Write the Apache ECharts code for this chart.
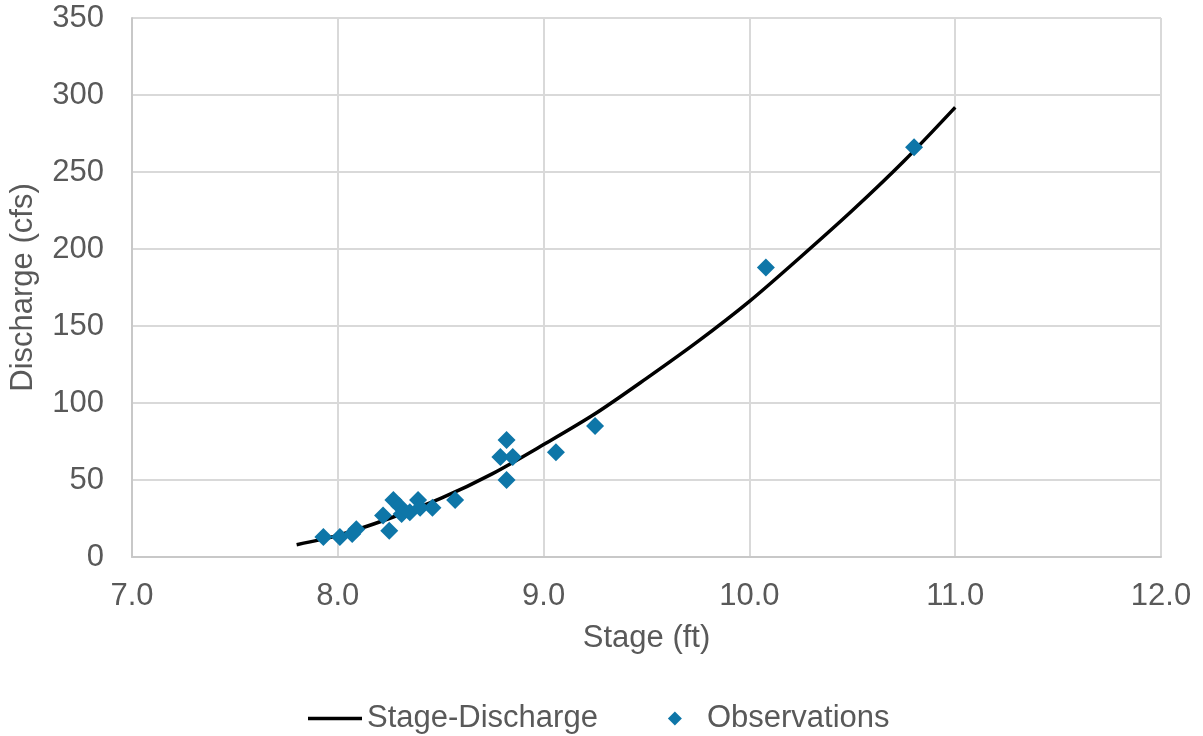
<!DOCTYPE html>
<html>
<head>
<meta charset="utf-8">
<script src="https://cdn.jsdelivr.net/npm/echarts@6/dist/echarts.min.js"></script>
<style>
html,body{margin:0;padding:0;background:#fff;}
#chart{width:1203px;height:736px;}
</style>
</head>
<body>
<div id="chart"></div>
<script>
// Rating curve
var curveStage = [7.8, 8.0, 8.25, 8.5, 8.75, 9.0, 9.25, 9.5, 9.75, 10.0, 10.25, 10.5, 10.75, 11.0];
var curveDischarge = [8, 14, 25, 38, 54, 73, 93, 116, 140, 166, 195, 225, 257, 292];

// Observations
var obsStage = [7.93, 8.01, 8.07, 8.09, 8.22, 8.25, 8.27, 8.30, 8.31, 8.35, 8.39, 8.40, 8.46, 8.57, 8.79, 8.82, 8.85, 8.82, 9.06, 9.25, 10.08, 10.80];
var obsDischarge = [13, 13, 15, 18, 27, 17, 37, 33, 28, 29, 37, 32, 32, 37, 65, 76, 65, 50, 68, 85, 188, 266];

var seriesNames = ['Stage-Discharge', 'Observations'];
var xTitle = 'Stage (ft)';
var yTitle = 'Discharge (cfs)';

function pairs(xs, ys) { return xs.map(function (x, i) { return [x, ys[i]]; }); }

var font = '"Liberation Sans", Arial, sans-serif';
var textColor = '#595959';

var chart = echarts.init(document.getElementById('chart'), null, {renderer: 'canvas'});
chart.setOption({
  animation: false,
  backgroundColor: '#ffffff',
  grid: {left: 131, right: 42, top: 18, bottom: 179, containLabel: false},
  xAxis: {
    type: 'value', min: 7, max: 12, interval: 1,
    name: xTitle, nameLocation: 'middle', nameGap: 66,
    nameTextStyle: {color: textColor, fontSize: 31, fontFamily: font},
    axisLine: {show: true, lineStyle: {color: '#c8c8c8', width: 2}},
    axisTick: {show: false},
    axisLabel: {color: textColor, fontSize: 31, fontFamily: font, margin: 24,
      formatter: function (v) { return v.toFixed(1); }},
    splitLine: {show: true, lineStyle: {color: '#d9d9d9', width: 2}}
  },
  yAxis: {
    type: 'value', min: 0, max: 350, interval: 50,
    name: yTitle, nameLocation: 'middle', nameGap: 93,
    nameTextStyle: {color: textColor, fontSize: 31, fontFamily: font},
    axisLine: {show: true, lineStyle: {color: '#c8c8c8', width: 2}},
    axisTick: {show: false},
    axisLabel: {color: textColor, fontSize: 31, fontFamily: font, margin: 28},
    splitLine: {show: true, lineStyle: {color: '#d9d9d9', width: 2}}
  },
  legend: {
    left: 308, top: 703, width: 850, padding: 0,
    itemWidth: 54, itemHeight: 14, itemGap: 70,
    symbolKeepAspect: true,
    textStyle: {color: textColor, fontSize: 31, fontFamily: font},
    data: [
      {name: seriesNames[0], icon: 'path://M0,0L54,0L54,3.5L0,3.5Z', itemStyle: {color: '#000000'}},
      {name: seriesNames[1], icon: 'path://M7,0L14,7L7,14L0,7Z', itemStyle: {color: '#0E76A8'}}
    ]
  },
  series: [
    {
      name: seriesNames[0], type: 'line',
      data: pairs(curveStage, curveDischarge),
      smooth: 0.3,
      showSymbol: false, symbol: 'none',
      lineStyle: {color: '#000000', width: 3.5},
      itemStyle: {color: '#000000'},
      z: 3
    },
    {
      name: seriesNames[1], type: 'scatter',
      data: pairs(obsStage, obsDischarge),
      symbol: 'diamond', symbolSize: 18,
      itemStyle: {color: '#0E76A8', opacity: 1},
      z: 4
    }
  ]
});
</script>
</body>
</html>
